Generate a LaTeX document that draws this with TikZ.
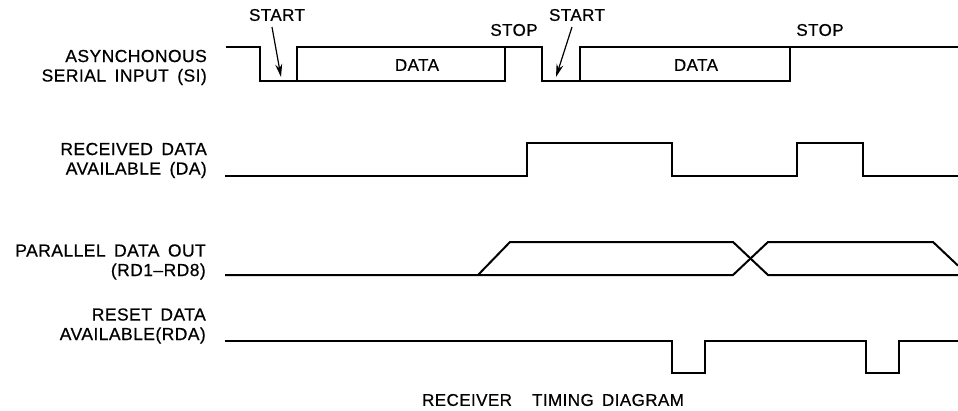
\documentclass[tikz,border=0pt]{standalone}
\usepackage{fontspec}
\setmainfont{Liberation Sans}[FakeBold=0.6,LetterSpace=2.5,WordSpace=1.6]
\usetikzlibrary{arrows.meta}
\begin{document}
\begin{tikzpicture}[x=1pt,y=-1pt,
  wave/.style={line width=2pt, line join=miter},
  lbl/.style={font=\fontsize{17.5}{19.5}\selectfont, inner sep=0pt, align=right, anchor=east},
  tag/.style={font=\fontsize{17}{19}\selectfont, inner sep=0pt},
  arr/.style={line width=1.2pt, -{Stealth[length=13pt,width=7pt]}}]
\useasboundingbox (0,0) rectangle (958,410);
% labels
\node[lbl] (si) at (207,67.5) {ASYNCHONOUS\\SERIAL INPUT (SI)};
\node[lbl] (da) at (207,160.5) {RECEIVED DATA\\AVAILABLE (DA)};
\node[lbl] (pd) at (206,262) {PARALLEL DATA OUT\\(RD1--RD8)};
\node[lbl] (rda) at (206,326) {RESET DATA\\AVAILABLE(RDA)};
\node[tag] (cap) at (553,400) {RECEIVER\hspace{0.7em} TIMING DIAGRAM};
% SI waveform
\draw[wave] (226,47) -- (260,47) -- (260,81) -- (505,81) -- (505,47);
\draw[wave] (297,81) -- (297,47) -- (542,47) -- (542,81) -- (790,81) -- (790,47);
\draw[wave] (580,81) -- (580,47) -- (958,47);
\node[tag] (d1) at (417,65) {DATA};
\node[tag] (d2) at (696,65) {DATA};
\node[tag] (st1) at (277,15) {START};
\node[tag] (st2) at (577,15) {START};
\node[tag] (sp1) at (514,30) {STOP};
\node[tag] (sp2) at (820,30) {STOP};
\coordinate (a1s) at (272,27);
\coordinate (a1e) at (281,77);
\coordinate (a2s) at (572,27);
\coordinate (a2e) at (556,77);
\draw[arr] (a1s) -- (a1e);
\draw[arr] (a2s) -- (a2e);
% DA waveform
\draw[wave] (225,176) -- (527,176) -- (527,143) -- (672,143) -- (672,176) -- (797,176) -- (797,143) -- (863,143) -- (863,176) -- (958,176);
% Parallel data out
\draw[wave] (225,275) -- (478,275) -- (733,275) -- (768,242) -- (933,242) -- (958,265.6);
\draw[wave] (478,275) -- (510,242) -- (733,242) -- (768,275) -- (958,275);
% RDA waveform
\draw[wave] (225,341) -- (672,341) -- (672,373) -- (705,373) -- (705,341) -- (866,341) -- (866,373) -- (899,373) -- (899,341) -- (958,341);
\end{tikzpicture}
\end{document}
